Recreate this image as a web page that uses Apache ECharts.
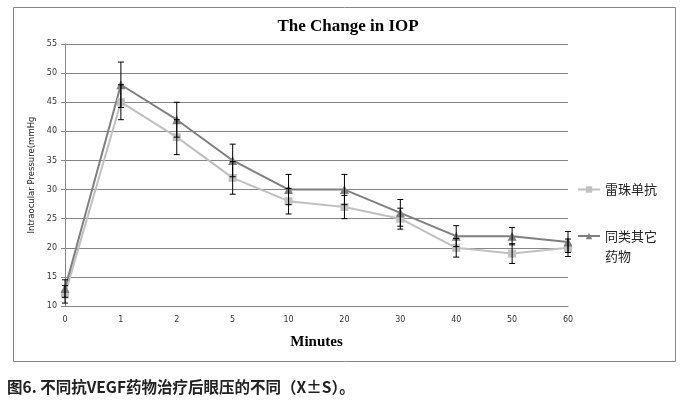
<!DOCTYPE html>
<html><head><meta charset="utf-8">
<script src="https://cdn.jsdelivr.net/npm/echarts@6/dist/echarts.min.js"></script>
<style>html,body{margin:0;padding:0;background:#fff}#c{width:695px;height:407px}</style>
</head><body><div id="c"></div>
<script>
var categories = ['0','1','2','5','10','20','30','40','50','60'];
var seriesA = [12,45,39,32,28,27,25,20,19,20];          // 雷珠单抗
var errA    = [1.5,3,3,2.8,2.2,2,1.8,1.6,1.7,1.5];
var seriesB = [13,48,42,35,30,30,26,22,22,21];          // 同类其它药物
var errB    = [1.5,3.9,3,2.8,2.6,2.6,2.3,1.8,1.5,1.8];
var nameA = '雷珠单抗', nameB = '同类其它药物';

function errData(vals, errs){ return vals.map(function(v,i){ return [i, v-errs[i], v+errs[i]]; }); }
function errRender(params, api){
  var x = api.value(0);
  var lo = api.coord([x, api.value(1)]);
  var hi = api.coord([x, api.value(2)]);
  var w = 3;
  var st = {stroke:'#000', lineWidth:1};
  return {type:'group', children:[
    {type:'line', shape:{x1:lo[0],y1:lo[1],x2:hi[0],y2:hi[1]}, style:st},
    {type:'line', shape:{x1:lo[0]-w,y1:lo[1],x2:lo[0]+w,y2:lo[1]}, style:st},
    {type:'line', shape:{x1:hi[0]-w,y1:hi[1],x2:hi[0]+w,y2:hi[1]}, style:st}
  ]};
}
var chart = echarts.init(document.getElementById('c'));
chart.setOption({
  animation:false,
  title:{text:'The Change in IOP', left:343, textAlign:'center', top:13,
    textStyle:{fontFamily:'Liberation Serif', fontWeight:'bold', fontSize:17, color:'#000'}},
  grid:{left:65, right:127, top:44, bottom:101},
  legend:[
    {data:[nameA], orient:'vertical', left:577, top:183, padding:0, itemWidth:22, itemHeight:8,
     textStyle:{fontFamily:'Noto Sans CJK SC', fontSize:13, color:'#222'}},
    {data:[nameB], orient:'vertical', left:577, top:206, padding:0, itemWidth:22, itemHeight:8,
     formatter:function(){return ' \n同类其它\n药物';},
     textStyle:{fontFamily:'Noto Sans CJK SC', fontSize:13, color:'#222', lineHeight:20}}
  ],
  xAxis:{type:'category', data:categories, boundaryGap:false,
    name:'Minutes', nameLocation:'middle', nameGap:29,
    nameTextStyle:{fontFamily:'Liberation Serif', fontWeight:'bold', fontSize:15, color:'#000'},
    axisLine:{lineStyle:{color:'#868686'}}, axisTick:{show:false},
    axisLabel:{fontFamily:'DejaVu Sans', fontSize:8, color:'#333', margin:10}},
  yAxis:{type:'value', min:10, max:55, interval:5,
    name:'Intraocular Pressure(mmHg', nameLocation:'middle', nameGap:27,
    nameTextStyle:{fontFamily:'DejaVu Sans', fontSize:8.5, color:'#222'},
    axisLine:{show:true, lineStyle:{color:'#868686'}},
    axisTick:{show:true, length:4, lineStyle:{color:'#868686'}},
    splitLine:{lineStyle:{color:'#868686'}},
    axisLabel:{fontFamily:'DejaVu Sans', fontSize:8, color:'#333', margin:8}},
  series:[
    {name:nameA, type:'line', data:seriesA, symbol:'rect', symbolSize:8,
     itemStyle:{color:'#c0c0c0'}, lineStyle:{color:'#c0c0c0', width:2}, z:3},
    {name:nameB, type:'line', data:seriesB, symbol:'triangle', symbolSize:9,
     itemStyle:{color:'#7f7f7f'}, lineStyle:{color:'#7f7f7f', width:2}, z:3},
    {type:'custom', renderItem:errRender, data:errData(seriesA, errA), z:4, silent:true},
    {type:'custom', renderItem:errRender, data:errData(seriesB, errB), z:4, silent:true}
  ],
  graphic:[
    {type:'rect', shape:{x:13.5, y:7.5, width:662, height:354}, style:{fill:'none', stroke:'#868686', lineWidth:1}, z:-1},
    {type:'text', left:7, top:379, style:{text:'图6. 不同抗VEGF药物治疗后眼压的不同（X±S）。', fontFamily:'Noto Sans CJK SC', fontWeight:'bold', fontSize:15.5, fill:'#222'}}
  ]
});
</script></body></html>
